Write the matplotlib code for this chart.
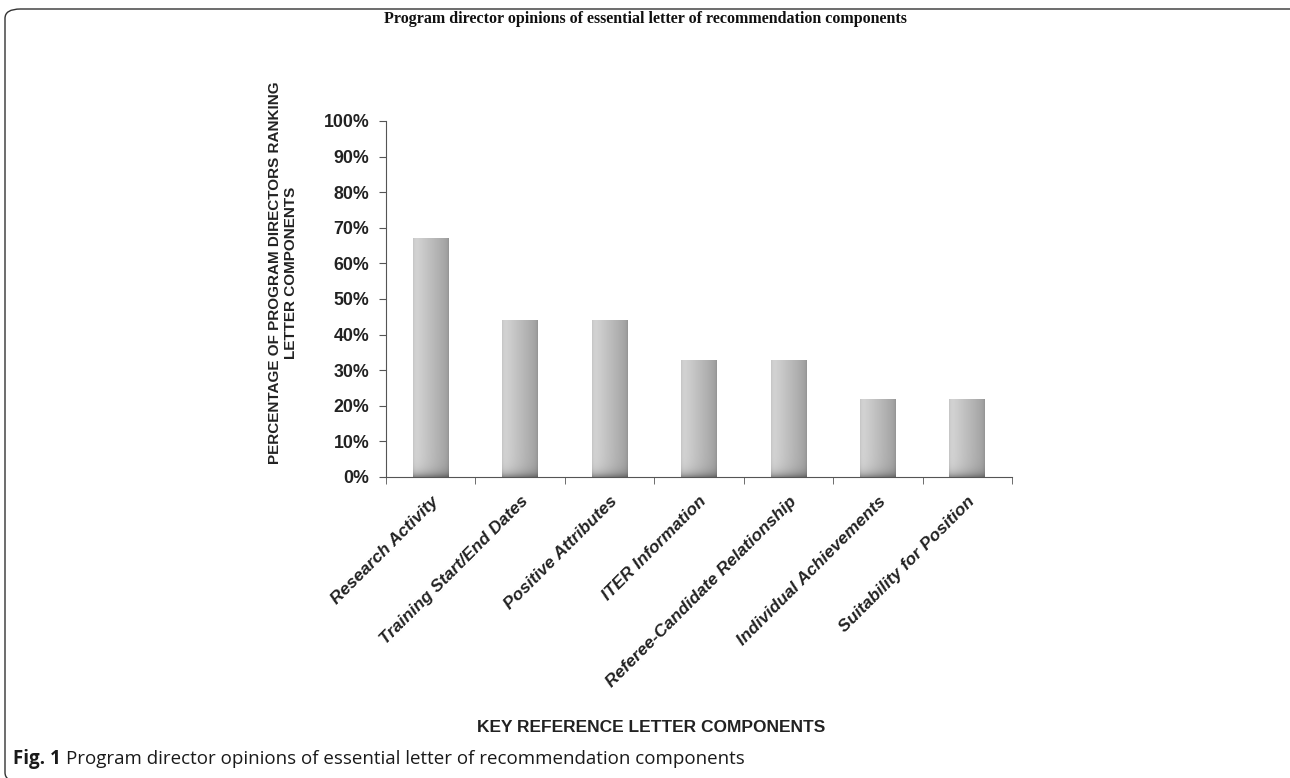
import matplotlib
matplotlib.use("Agg")
import matplotlib.pyplot as plt
import numpy as np
from matplotlib.patches import FancyBboxPatch
from matplotlib.ticker import PercentFormatter

# Data
components = ["Research Activity", "Training Start/End Dates", "Positive Attributes",
              "ITER Information", "Referee-Candidate Relationship",
              "Individual Achievements", "Suitability for Position"]
percent = [67, 44, 44, 33, 33, 22, 22]
yticks = list(range(0, 101, 10))

plt.rcParams['font.family'] = ['Liberation Sans', 'DejaVu Sans']

fig = plt.figure(figsize=(12.9, 7.78), dpi=100)
ax = fig.add_axes([0.2992, 0.3869, 0.4853, 0.4576])

x = np.arange(len(components))
bars = ax.bar(x, percent, width=0.4, color="#bdbdbd", zorder=2)

# gradient fill: light on the left, darker to the right, soft dark band at the bottom
gx = np.linspace(0, 1, 64)
horiz = 0.85 - 0.22 * gx - 0.08 * np.exp(-gx / 0.04) - 0.05 * np.exp(-(1 - gx) / 0.04)
for b in bars:
    h = b.get_height()
    gy = np.linspace(0, h, 200)
    vert = 1 - 0.35 * np.exp(-gy / 1.2)
    img = vert[:, None] * horiz[None, :]
    im = ax.imshow(img, cmap="gray", vmin=0, vmax=1, origin="lower", aspect="auto",
                   extent=[b.get_x(), b.get_x() + b.get_width(), 0, h], zorder=3,
                   interpolation="bilinear")
    im.set_clip_path(b)

ax.set_xlim(-0.5, len(components) - 0.5)
ax.set_ylim(0, 100)
ax.set_yticks(yticks)
ax.yaxis.set_major_formatter(PercentFormatter(decimals=0))
ax.set_xticks(x)
ax.set_xticklabels(components, rotation=45, ha="right", rotation_mode="anchor",
                   fontsize=12.5, fontstyle="italic", fontweight="bold", color="#222222")
ax.set_xticks(np.arange(len(components) + 1) - 0.5, minor=True)
ax.tick_params(axis="x", which="major", length=0, pad=12)
ax.tick_params(axis="x", which="minor", length=5, color="#555555", direction="out")
ax.tick_params(axis="y", length=5, color="#555555", labelsize=12.8, pad=7)
for lbl in ax.get_yticklabels():
    lbl.set_fontweight("bold")
    lbl.set_color("#222222")

for s in ["top", "right"]:
    ax.spines[s].set_visible(False)
ax.spines["left"].set_color("#555555")
ax.spines["bottom"].set_color("#555555")

ax.set_ylabel("PERCENTAGE OF PROGRAM DIRECTORS RANKING\nLETTER COMPONENTS",
              fontsize=11, fontweight="bold", color="#222222", linespacing=1.15)
ax.yaxis.set_label_coords(-0.1406, 0.573)

fig.text(0.5, 0.976, "Program director opinions of essential letter of recommendation components",
         ha="center", va="center", fontsize=11.5, fontweight="bold",
         family="Liberation Serif", color="#111111")
fig.text(651 / 1290, 1 - 728 / 778, "KEY REFERENCE LETTER COMPONENTS",
         ha="center", va="center", fontsize=12.5, fontweight="bold", color="#222222")

cy = 1 - 759 / 778
t1 = fig.text(13 / 1290, cy, "Fig. 1", ha="left", va="center",
              fontsize=13.5, fontweight="bold", family="Open Sans", color="#1a1a1a")
fig.canvas.draw()
bb = t1.get_window_extent()
fig.text((bb.x1 + 5) / 1290, cy,
         "Program director opinions of essential letter of recommendation components",
         ha="left", va="center", fontsize=13.5, family="Open Sans", color="#1a1a1a")

frame = FancyBboxPatch((5 / 1290, -0.005), 1.05, 1 - 9 / 778 + 0.005,
                       boxstyle="round,pad=0,rounding_size=0.012",
                       transform=fig.transFigure, fill=False,
                       edgecolor="#333333", linewidth=1.0)
fig.patches.append(frame)

fig.savefig("out.png", dpi=100)
